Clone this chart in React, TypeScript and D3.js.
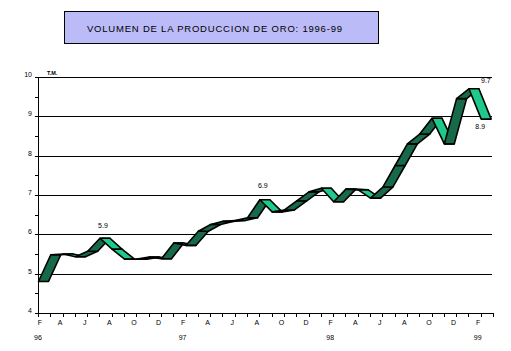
import React from "react";
import * as d3 from "d3";

// ---- Data ----
const monthInitials = ["F","M","A","M","J","J","A","S","O","N","D","E"];
const categories: string[] = Array.from({ length: 37 }, (_, i) => monthInitials[i % 12]);
const values = [
  4.80, 5.48, 5.50, 5.43, 5.57, 5.90, 5.62, 5.37, 5.37, 5.42, 5.38, 5.78,
  5.72, 6.08, 6.25, 6.33, 6.35, 6.42, 6.88, 6.57, 6.62, 6.85, 7.08, 7.17,
  6.83, 7.15, 7.13, 6.92, 7.20, 7.75, 8.30, 8.55, 8.95, 8.30, 9.45, 9.70,
  8.93,
];
const yearLabels = ["96", "97", "98", "99"];
const yearIndex = [0, 12, 24, 36];
const labelledIndex = [5, 18, 35, 36];
const yTicks = [4, 5, 6, 7, 8, 9, 10];
const title = "VOLUMEN  DE LA PRODUCCION DE ORO: 1996-99";
const unitLabel = "T.M.";

// label offsets (layout)
const labelOffsets: Record<number, [number, number]> = {
  5: [-2, -12],
  18: [-2, -14],
  35: [12, -8],
  36: [-6, 8],
};

export default function App() {
  const W = 511, H = 351;
  const x = d3.scaleLinear().domain([0, 37]).range([38, 493]);
  const y = d3.scaleLinear().domain([4, 10]).range([313, 77]);
  const depth = 10;
  const px = (i: number) => x(i) + 0.5;
  const fmt = d3.format(".1f");
  const font = "'Liberation Sans', Arial, sans-serif";

  const segs = [];
  for (let i = 0; i < values.length - 1; i++) {
    const x0 = px(i), y0 = y(values[i]);
    const x1 = px(i + 1), y1 = y(values[i + 1]);
    const rising = values[i + 1] >= values[i];
    const path = d3.path();
    path.moveTo(x0, y0);
    path.lineTo(x1, y1);
    path.lineTo(x1 + depth, y1);
    path.lineTo(x0 + depth, y0);
    path.closePath();
    segs.push(
      <path
        key={i}
        d={path.toString()}
        fill={rising ? "#176a49" : "#1fc98c"}
        stroke="#000"
        strokeWidth={1.6}
        strokeLinejoin="round"
      />
    );
  }

  const minorTicks = d3.range(4, 10.01, 0.5);

  return (
    <svg width={W} height={H} style={{ position: "absolute", left: 0, top: 0, background: "#fff" }}>
      <rect x={0} y={0} width={W} height={H} fill="#fff" />
      {/* Title box */}
      <rect x={64.5} y={11.5} width={314} height={32} fill="#bbbbf8" stroke="#000" strokeWidth={1} />
      <text x={87} y={32} fontFamily={font} fontSize={9.5} textLength={255} lengthAdjust="spacing" fill="#000">
        {title}
      </text>

      {/* Gridlines */}
      {yTicks.slice(1).map((t) => (
        <line key={t} x1={38} x2={492} y1={Math.round(y(t)) + 0.5} y2={Math.round(y(t)) + 0.5} stroke="#000" strokeWidth={1} />
      ))}
      {/* Y axis */}
      <line x1={38.5} x2={38.5} y1={77} y2={313.5} stroke="#000" strokeWidth={1} />
      {minorTicks.map((t) => (
        <line key={t} x1={35} x2={38} y1={Math.round(y(t)) + 0.5} y2={Math.round(y(t)) + 0.5} stroke="#000" strokeWidth={1} />
      ))}
      {yTicks.map((t) => (
        <text key={t} x={32} y={y(t) - 2} fontFamily={font} fontSize={7} textAnchor="end" dominantBaseline="middle" fill="#000">
          {t}
        </text>
      ))}
      <text x={47} y={75} fontFamily={font} fontSize={5.5} fontWeight="bold" fill="#000">{unitLabel}</text>

      {/* X axis */}
      <line x1={38} x2={493} y1={313.5} y2={313.5} stroke="#000" strokeWidth={1} />
      {d3.range(0, 38).map((k) => (
        <line key={k} x1={Math.round(x(k)) + 0.5} x2={Math.round(x(k)) + 0.5} y1={313} y2={317} stroke="#000" strokeWidth={1} />
      ))}
      {categories.map((c, i) =>
        i % 2 === 0 ? (
          <text key={i} x={i === 0 ? x(i) + 2 : x(i) - 2.5} y={325} fontFamily={font} fontSize={7} textAnchor="middle" fill="#000">
            {c}
          </text>
        ) : null
      )}
      {yearLabels.map((yl, j) => (
        <text key={yl} x={yearIndex[j] === 0 ? x(0) : x(yearIndex[j]) - 3} y={340} fontFamily={font} fontSize={7} textAnchor="middle" fill="#000">
          {yl}
        </text>
      ))}

      {/* Ribbon */}
      {segs}

      {/* Data labels */}
      {labelledIndex.map((i) => {
        const [dx, dy] = labelOffsets[i];
        return (
          <text key={i} x={px(i) + dx + depth / 2} y={y(values[i]) + dy} fontFamily={font} fontSize={7} textAnchor="middle" dominantBaseline="middle" fill="#000">
            {fmt(values[i])}
          </text>
        );
      })}
    </svg>
  );
}
